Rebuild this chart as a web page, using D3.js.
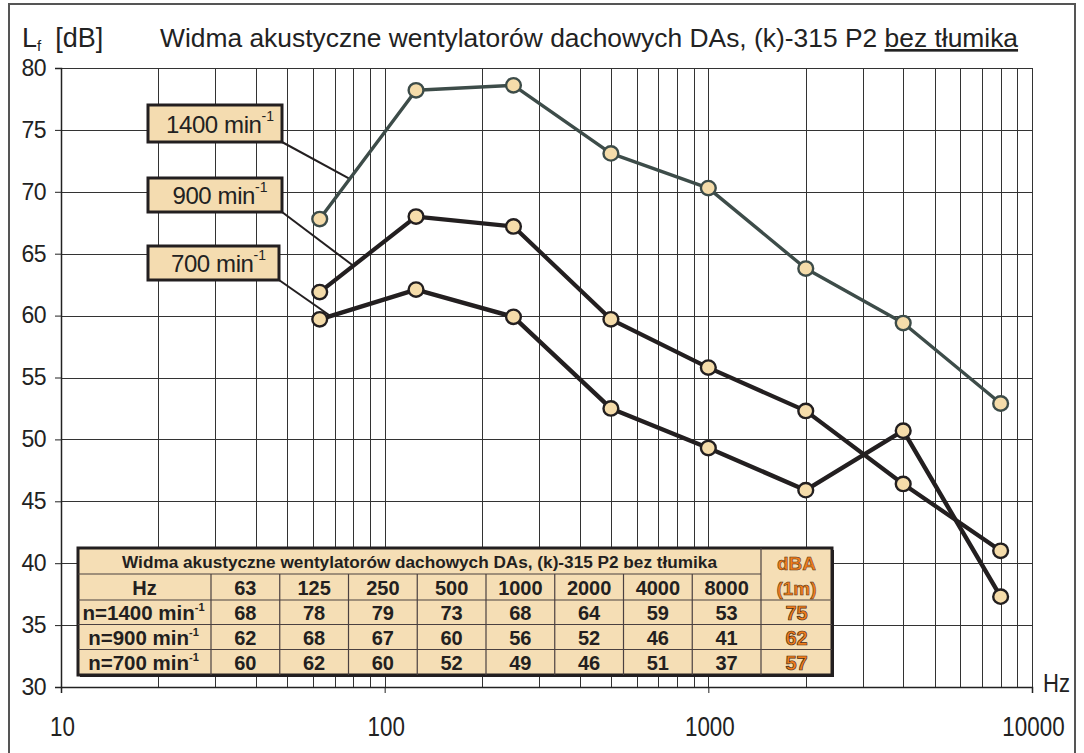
<!DOCTYPE html>
<html>
<head>
<meta charset="utf-8">
<script src="https://cdn.jsdelivr.net/npm/d3@7"></script>
<style>
  html, body { margin: 0; padding: 0; background: #fff; }
  svg { display: block; font-family: "Liberation Sans", Arial, sans-serif; }
</style>
</head>
<body>
<div id="chart"></div>
<script>
// frequencies (Hz) of the octave bands
const freqs = [63, 125, 250, 500, 1000, 2000, 4000, 8000];
// plotted levels (dB)
const series1400 = [67.8, 78.2, 78.6, 73.1, 70.3, 63.8, 59.4, 52.9];
const series900 = [61.9, 68.0, 67.2, 59.7, 55.8, 52.3, 46.4, 41.0];
const series700 = [59.7, 62.1, 59.9, 52.5, 49.3, 45.9, 50.7, 37.3];

// table values
const tableTitle = "Widma akustyczne wentylatorów dachowych DAs, (k)-315 P2 bez tłumika";
const tableFreqs = ["63", "125", "250", "500", "1000", "2000", "4000", "8000"];
const table1400 = [68, 78, 79, 73, 68, 64, 59, 53];
const table900 = [62, 68, 67, 60, 56, 52, 46, 41];
const table700 = [60, 62, 60, 52, 49, 46, 51, 37];
const tableDBA = [75, 62, 57];
const rowLabels = ["n=1400 min", "n=900 min", "n=700 min"];

const yTicks = [30, 35, 40, 45, 50, 55, 60, 65, 70, 75, 80];
const xMajor = [10, 100, 1000, 10000];
const legendLabels = ["1400 min", "900 min", "700 min"];
const legendTargetHz = [78, 80, 68];

const W = 1084, H = 753;
const svg = d3.select("#chart").append("svg").attr("width", W).attr("height", H);

const x = d3.scaleLog().domain([10, 10000]).range([61, 1032]);
const y = d3.scaleLinear().domain([30, 80]).range([687, 68]);

// outer frame
svg.append("rect").attr("x", 9).attr("y", 4).attr("width", 1066).attr("height", 760)
  .attr("fill", "none").attr("stroke", "#555").attr("stroke-width", 2);

// grid
const minor = [];
[10, 100, 1000].forEach(d => { for (let k = 2; k <= 9; k++) minor.push(d * k); });
const grid = svg.append("g").attr("stroke", "#333").attr("stroke-width", 1);
grid.selectAll(".vx").data(minor.concat(xMajor)).enter().append("line")
  .attr("x1", d => Math.round(x(d)) + 0.5).attr("x2", d => Math.round(x(d)) + 0.5)
  .attr("y1", y(80)).attr("y2", y(30));
grid.selectAll(".hy").data(yTicks).enter().append("line")
  .attr("x1", x(10)).attr("x2", x(10000))
  .attr("y1", d => Math.round(y(d)) + 0.5).attr("y2", d => Math.round(y(d)) + 0.5);

// axes
const yAxis = d3.axisLeft(y).tickValues(yTicks).tickSize(6).tickPadding(9);
const gy = svg.append("g").attr("transform", `translate(${x(10)},0)`).call(yAxis);
gy.select(".domain").attr("stroke", "#222").attr("stroke-width", 1.5);
gy.selectAll(".tick line").attr("stroke", "#222");
gy.selectAll(".tick text").attr("font-size", 23).attr("fill", "#222")
  .attr("font-family", "Liberation Sans, Arial, sans-serif").attr("letter-spacing", -0.5);

const xAxis = d3.axisBottom(x).tickValues(xMajor).tickFormat(d3.format("d")).tickSize(6).tickPadding(0);
const gx = svg.append("g").attr("transform", `translate(0,${y(30)})`).call(xAxis);
gx.select(".domain").attr("stroke", "#222").attr("stroke-width", 1.5);
gx.selectAll(".tick line").attr("stroke", "#222");
gx.selectAll(".tick text").text("")
gx.selectAll(".tick").append("text")
  .attr("transform", "translate(1,49) scale(0.8,1)")
  .attr("text-anchor", "middle").attr("font-size", 28).attr("fill", "#222")
  .attr("font-family", "Liberation Sans, Arial, sans-serif")
  .text(d => d);

svg.append("text").attr("transform", "translate(1043,692) scale(0.85,1)")
  .attr("font-size", 26).attr("fill", "#222").text("Hz");

// axis title + chart title
const yt = svg.append("text").attr("x", 22).attr("y", 47).attr("font-size", 27).attr("fill", "#222");
yt.append("tspan").text("L");
yt.append("tspan").attr("font-size", 15).attr("dy", 4).text("f");
yt.append("tspan").attr("dy", -4).attr("dx", 14).text("[dB]");

const title = svg.append("text").attr("x", 160).attr("y", 47).attr("font-size", 26.4).attr("fill", "#222");
title.append("tspan").text("Widma akustyczne wentylatorów dachowych DAs, (k)-315 P2 ");
title.append("tspan").style("text-decoration", "underline").text("bez tłumika");

// series
const seriesList = [
  { vals: series700, color: "#231f20", width: 4.4 },
  { vals: series900, color: "#231f20", width: 4.2 },
  { vals: series1400, color: "#3d4c49", width: 3.4 }
];
const line = d3.line().x(d => x(d[0])).y(d => y(d[1]));

// legend leader lines and boxes
const legendBoxes = [
  { x: 148, y: 105, w: 134, h: 37, s: series1400 },
  { x: 148, y: 178, w: 134, h: 34, s: series900 },
  { x: 148, y: 246, w: 131, h: 34, s: series700 }
];
function valueAt(vals, hz) {
  const t = (Math.log10(hz) - Math.log10(freqs[0])) / (Math.log10(freqs[1]) - Math.log10(freqs[0]));
  return vals[0] + t * (vals[1] - vals[0]);
}
legendBoxes.forEach((b, i) => {
  svg.append("line")
    .attr("x1", b.x + b.w).attr("y1", b.y + b.h)
    .attr("x2", x(legendTargetHz[i])).attr("y2", y(valueAt(b.s, legendTargetHz[i])))
    .attr("stroke", "#231f20").attr("stroke-width", 2);
});

seriesList.forEach(s => {
  svg.append("path").datum(freqs.map((f, i) => [f, s.vals[i]]))
    .attr("d", line).attr("fill", "none")
    .attr("stroke", s.color).attr("stroke-width", s.width).attr("stroke-linejoin", "round");
});
seriesList.forEach(s => {
  svg.append("g").selectAll("ellipse").data(freqs.map((f, i) => [f, s.vals[i]])).enter()
    .append("ellipse")
    .attr("cx", d => x(d[0])).attr("cy", d => y(d[1]))
    .attr("rx", 7.4).attr("ry", 7.2)
    .attr("fill", "#f5dcaa").attr("stroke", s.color).attr("stroke-width", 2.4);
});

legendBoxes.forEach((b, i) => {
  svg.append("rect").attr("x", b.x).attr("y", b.y).attr("width", b.w).attr("height", b.h)
    .attr("fill", "#f4dcb0").attr("stroke", "#231f20").attr("stroke-width", 3);
  const t = svg.append("text").attr("x", b.x + b.w / 2 + 5).attr("y", b.y + b.h / 2 + 9)
    .attr("text-anchor", "middle").attr("font-size", 24).attr("fill", "#222");
  t.append("tspan").attr("letter-spacing", -0.4).text(legendLabels[i]);
  t.append("tspan").attr("font-size", 14).attr("dy", -12).text("-1");
});

// data table
const tx = 78, ty = 548;
const colW = [133].concat(d3.range(8).map(() => 68.75)).concat([71]);
const colX = [tx];
colW.forEach(w => colX.push(colX[colX.length - 1] + w));
const rowY = [548, 574, 600, 624.5, 649.5, 675];
const tw = colX[colX.length - 1] - tx, th = rowY[5] - ty;

const tbl = svg.append("g");
tbl.append("rect").attr("x", tx + 2).attr("y", ty + 2).attr("width", tw).attr("height", th).attr("fill", "#231f20");
tbl.append("rect").attr("x", tx).attr("y", ty).attr("width", tw).attr("height", th)
  .attr("fill", "#f5deb5").attr("stroke", "#231f20").attr("stroke-width", 3);
const ink = "#231f20";
// horizontal inner lines
[1, 2, 3, 4].forEach(r => {
  const xEnd = r === 1 ? colX[9] : colX[10];
  tbl.append("line").attr("x1", tx).attr("x2", xEnd).attr("y1", rowY[r]).attr("y2", rowY[r])
    .attr("stroke", "#4a4040").attr("stroke-width", 1.2);
});
// vertical inner lines
colX.slice(1, 10).forEach((cx, i) => {
  tbl.append("line").attr("x1", cx).attr("x2", cx)
    .attr("y1", i === 8 ? ty : rowY[1]).attr("y2", ty + th)
    .attr("stroke", "#4a4040").attr("stroke-width", 1.2);
});
const mid = (a, b) => (a + b) / 2;
tbl.append("text").attr("x", mid(colX[0], colX[9])).attr("y", rowY[1] - 6)
  .attr("text-anchor", "middle").attr("font-size", 17.2).attr("font-weight", "bold").attr("fill", ink)
  .text(tableTitle);
tbl.append("text").attr("x", mid(colX[0], colX[1])).attr("y", rowY[2] - 5)
  .attr("text-anchor", "middle").attr("font-size", 20).attr("font-weight", "bold").attr("fill", ink).text("Hz");
tbl.selectAll(".hf").data(tableFreqs).enter().append("text")
  .attr("x", (d, i) => mid(colX[i + 1], colX[i + 2])).attr("y", rowY[2] - 5)
  .attr("text-anchor", "middle").attr("font-size", 20).attr("font-weight", "bold").attr("fill", ink).text(d => d);

[table1400, table900, table700].forEach((vals, r) => {
  const yy = rowY[r + 3] - 5;
  const lab = tbl.append("text").attr("x", mid(colX[0], colX[1]) - 1).attr("y", yy)
    .attr("text-anchor", "middle").attr("font-size", 20.5).attr("font-weight", "bold").attr("fill", ink);
  lab.append("tspan").text(rowLabels[r]);
  lab.append("tspan").attr("font-size", 11).attr("dy", -9).text("-1");
  tbl.selectAll(".v" + r).data(vals).enter().append("text")
    .attr("x", (d, i) => mid(colX[i + 1], colX[i + 2])).attr("y", yy)
    .attr("text-anchor", "middle").attr("font-size", 20).attr("font-weight", "bold").attr("fill", ink).text(d => d);
  tbl.append("text").attr("x", mid(colX[9], colX[10])).attr("y", yy)
    .attr("text-anchor", "middle").attr("font-size", 20).attr("font-weight", "bold")
    .attr("fill", "#f07d1c").attr("stroke", "#4a2a10").attr("stroke-width", 0.7).text(tableDBA[r]);
});
tbl.append("text").attr("x", mid(colX[9], colX[10])).attr("y", 570)
  .attr("text-anchor", "middle").attr("font-size", 19).attr("font-weight", "bold")
  .attr("fill", "#f07d1c").attr("stroke", "#4a2a10").attr("stroke-width", 0.5).text("dBA");
tbl.append("text").attr("x", mid(colX[9], colX[10])).attr("y", 595)
  .attr("text-anchor", "middle").attr("font-size", 19).attr("font-weight", "bold")
  .attr("fill", "#f07d1c").attr("stroke", "#4a2a10").attr("stroke-width", 0.5).text("(1m)");
</script>
</body>
</html>
